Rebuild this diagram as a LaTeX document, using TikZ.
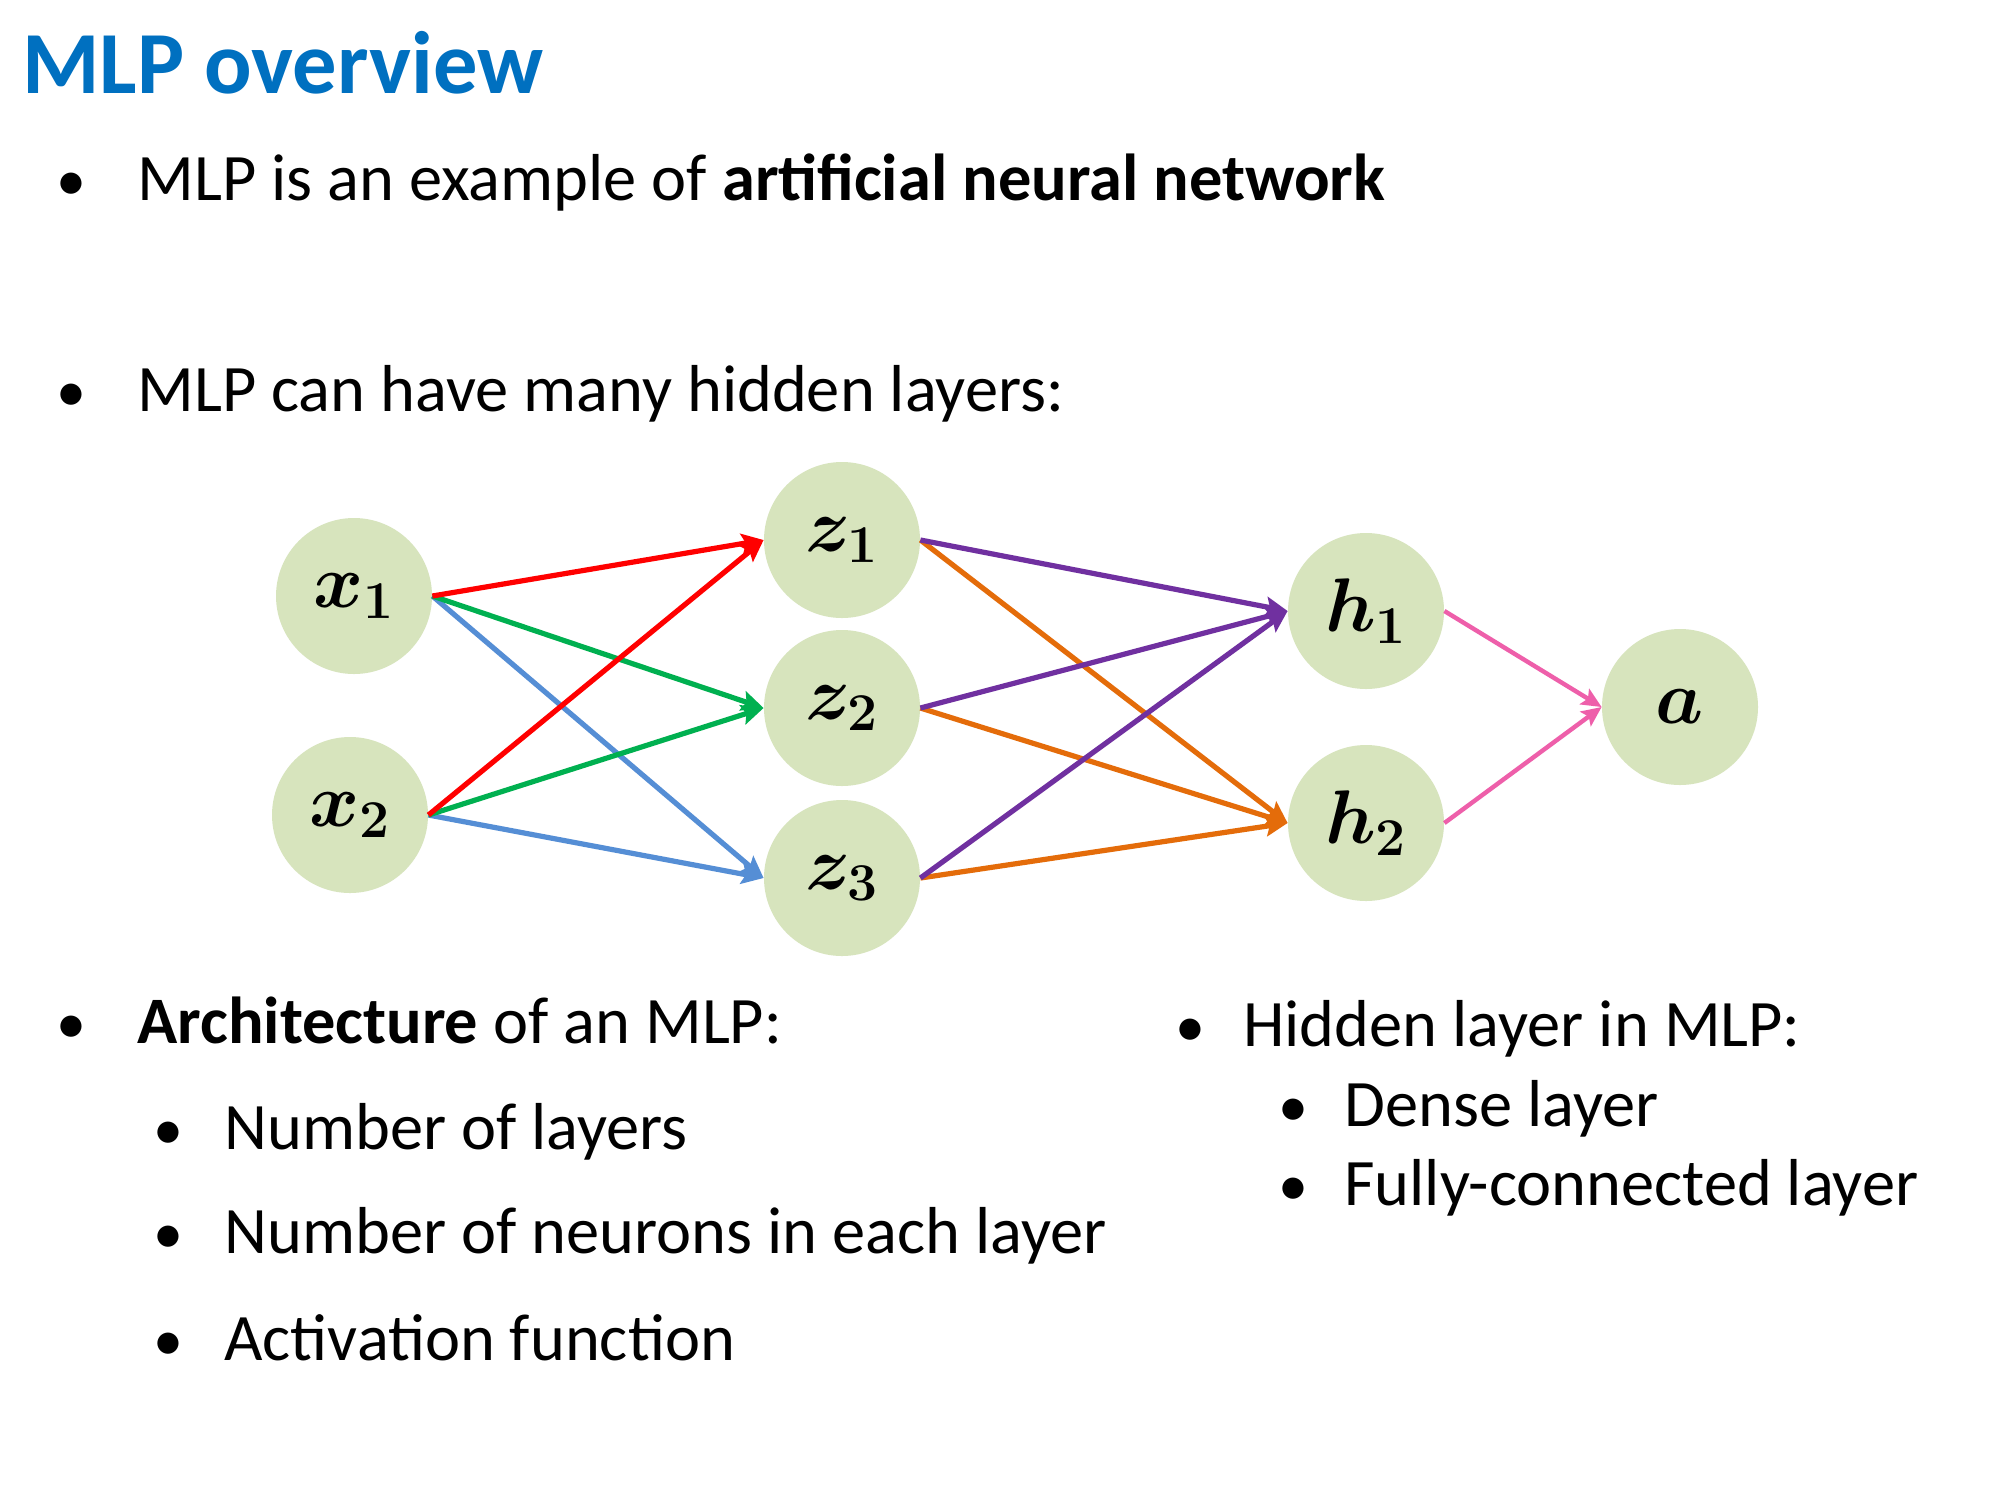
\RequirePackage{fix-cm}
\documentclass[tikz,border=0pt]{standalone}
\usepackage{fontspec}
\setmainfont{Carlito}
\usepackage{amsmath,bm}
\usetikzlibrary{arrows.meta}
\definecolor{titleblue}{HTML}{0070C0}
\definecolor{nodegreen}{HTML}{D7E4BD}
\definecolor{linkred}{HTML}{FF0000}
\definecolor{linkgreen}{HTML}{00B050}
\definecolor{linkblue}{HTML}{558ED5}
\definecolor{linkpurple}{HTML}{7030A0}
\definecolor{linkorange}{HTML}{E46C0A}
\definecolor{linkpink}{HTML}{EE5FAA}
\begin{document}
\begin{tikzpicture}[x=0.5pt,y=-0.5pt,
  neuron/.style={circle,fill=nodegreen,minimum size=78pt,inner sep=0pt,
    font=\fontsize{38}{44}\selectfont},
  body/.style={anchor=base west,inner sep=0pt,font=\fontsize{33.2}{40}\selectfont},
  bul/.style={anchor=base,inner sep=0pt,font=\fontsize{30}{36}\selectfont},
  link/.style={line width=2.6pt,-{Stealth[length=11pt,width=10pt,inset=2pt]}},
  outlink/.style={line width=2.2pt,-{Stealth[length=10pt,width=9pt,inset=2pt]}},
]
\useasboundingbox[fill=white] (0,0) rectangle (2000,1500);

% heading
\node[anchor=base west,inner sep=0pt,text=titleblue,
  font=\fontsize{44.3}{52}\selectfont\bfseries] (title) at (22,93) {MLP overview};

% first bullets
\node[bul] (b1) at (71,200) {•};
\node[body] (t1) at (137,200) {MLP is an example of \textbf{artificial neural network}};
\node[bul] (b2) at (71,411) {•};
\node[body] (t2) at (137,411) {MLP can have many hidden layers:};

% network
\node[neuron] (x1) at (354,596) {$\bm{x}_{\bm{1}}$};
\node[neuron] (x2) at (350,815) {$\bm{x}_{\bm{2}}$};
\node[neuron] (z1) at (842,540) {$\bm{z}_{\bm{1}}$};
\node[neuron] (z2) at (842,708) {$\bm{z}_{\bm{2}}$};
\node[neuron] (z3) at (842,878) {$\bm{z}_{\bm{3}}$};
\node[neuron] (h1) at (1366,611) {$\bm{h}_{\bm{1}}$};
\node[neuron] (h2) at (1366,823) {$\bm{h}_{\bm{2}}$};
\node[neuron] (a)  at (1680,707) {$\bm{a}$};

\draw[link,linkblue]  (x1.east) -- (z3.west);
\draw[link,linkblue]  (x2.east) -- (z3.west);
\draw[link,linkgreen] (x1.east) -- (z2.west);
\draw[link,linkgreen] (x2.east) -- (z2.west);
\draw[link,linkred]   (x1.east) -- (z1.west);
\draw[link,linkred]   (x2.east) -- (z1.west);

\draw[link,linkorange] (z1.east) -- (h2.west);
\draw[link,linkorange] (z2.east) -- (h2.west);
\draw[link,linkorange] (z3.east) -- (h2.west);
\draw[link,linkpurple] (z1.east) -- (h1.west);
\draw[link,linkpurple] (z2.east) -- (h1.west);
\draw[link,linkpurple] (z3.east) -- (h1.west);

\draw[outlink,linkpink] (h1.east) -- (a.west);
\draw[outlink,linkpink] (h2.east) -- (a.west);

% left column
\node[bul] (b3) at (71,1043) {•};
\node[body] (t3) at (137,1043) {\textbf{Architecture} of an MLP:};
\node[bul] (b31) at (168,1149) {•};
\node[body] (t31) at (224,1149) {Number of layers};
\node[bul] (b32) at (168,1253) {•};
\node[body] (t32) at (224,1253) {Number of neurons in each layer};
\node[bul] (b33) at (168,1360) {•};
\node[body] (t33) at (224,1360) {Activation function};

% right column
\node[bul] (b4) at (1190,1046) {•};
\node[body] (t4) at (1243,1046) {Hidden layer in MLP:};
\node[bul] (b41) at (1293,1126) {•};
\node[body] (t41) at (1344,1126) {Dense layer};
\node[bul] (b42) at (1293,1205) {•};
\node[body] (t42) at (1344,1205) {Fully-connected layer};
\end{tikzpicture}
\end{document}
